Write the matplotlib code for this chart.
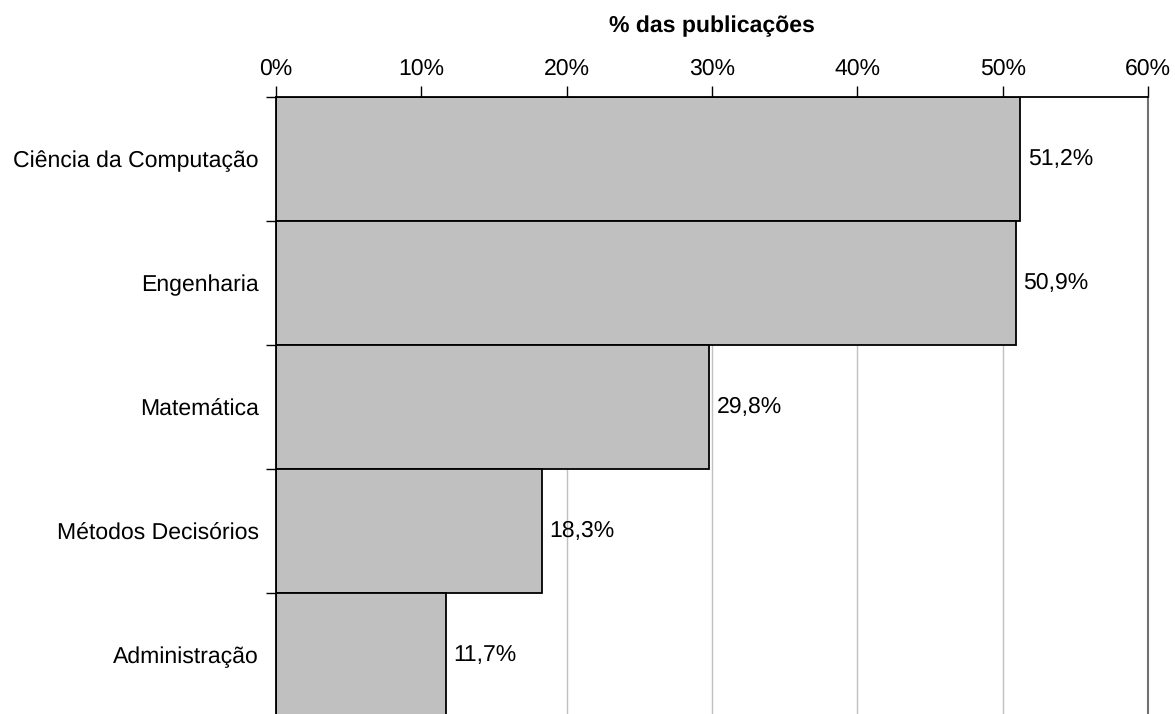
import matplotlib
matplotlib.use("Agg")
import matplotlib.pyplot as plt
from matplotlib.ticker import FixedLocator, NullFormatter

plt.rcParams['font.family'] = ['Liberation Sans', 'DejaVu Sans']
plt.rcParams['text.hinting'] = 'no_hinting'
plt.rcParams['text.hinting_factor'] = 1

categories = ["Ciência da Computação", "Engenharia", "Matemática",
              "Métodos Decisórios", "Administração"]
values = [51.2, 50.9, 29.8, 18.3, 11.7]
xticks = [0, 10, 20, 30, 40, 50, 60]
xtick_labels = ["0%", "10%", "20%", "30%", "40%", "50%", "60%"]
axis_title = "% das publicações"

FS = 16.6

W, H = 1175, 714
fig = plt.figure(figsize=(W / 100, H / 100), dpi=100)
left, right, top, bottom = 276, 1148, 97, 714
ax = fig.add_axes([left / W, 1 - bottom / H, (right - left) / W, (bottom - top) / H])

band = 124.0
n_visible = (bottom - top) / band
ypos = list(range(len(categories)))

ax.barh(ypos, values, height=1.0, color="#c0c0c0", edgecolor="black",
        linewidth=1.3, zorder=2)

ax.set_xlim(0, 60)
ax.set_ylim(-0.5 + n_visible, -0.5)

# percentage axis on top
ax.xaxis.tick_top()
ax.set_xticks(xticks)
ax.set_xticklabels(xtick_labels, fontsize=FS)
ax.tick_params(axis="x", which="major", direction="out", length=8,
               width=1, pad=4.5, colors="black")
for x in xticks[1:-1]:
    ax.axvline(x, color="#c0c0c0", linewidth=1, zorder=1)

# category labels centred in each band, tick marks at band boundaries
ax.yaxis.set_major_locator(FixedLocator(ypos))
ax.set_yticklabels(categories, fontsize=FS)
ax.tick_params(axis="y", which="major", length=0, pad=12.5)
ax.yaxis.set_minor_locator(FixedLocator([i - 0.5 for i in range(len(categories))]))
ax.yaxis.set_minor_formatter(NullFormatter())
ax.tick_params(axis="y", which="minor", direction="out", length=7, width=1,
               colors="black")

ax.spines["bottom"].set_visible(False)
ax.spines["top"].set_color("black")
ax.spines["top"].set_linewidth(1.3)
ax.spines["left"].set_color("black")
ax.spines["left"].set_linewidth(1.3)
ax.spines["right"].set_color("#707070")
ax.spines["right"].set_linewidth(1.5)

for y, v in zip(ypos, values):
    ax.annotate(f"{v:.1f}%".replace(".", ","), xy=(v, y), xytext=(5.5, 0),
                textcoords="offset points", va="center", ha="left", fontsize=FS)

fig.text((left + right) / 2 / W, 1 - 26 / H, axis_title, ha="center",
         va="center", fontsize=FS, fontweight="bold")

fig.savefig("out.png", dpi=100)
